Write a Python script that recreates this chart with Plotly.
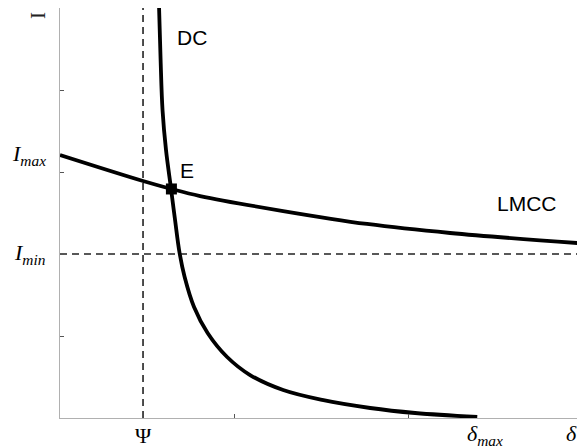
import plotly.graph_objects as go

# Demand curve (DC)
dc_x = [0.569, 0.578, 0.589, 0.609, 0.638, 0.661, 0.687, 0.716, 0.770, 0.848, 0.960, 1.092, 1.282, 1.506, 1.782, 2.040, 2.397]
dc_y = [5.012, 4.366, 3.756, 3.268, 2.793, 2.415, 2.012, 1.720, 1.354, 1.037, 0.744, 0.524, 0.341, 0.220, 0.122, 0.061, 0.012]

# LMCC curve
lm_x = [0.0, 0.477, 0.640, 0.805, 1.282, 1.764, 2.241, 2.971]
lm_y = [3.207, 2.890, 2.793, 2.707, 2.524, 2.366, 2.256, 2.134]

# Equilibrium point E
e_x = [0.640]
e_y = [2.793]

psi_x = 0.477
i_min = 2.0
i_max = 3.21
delta_max = 2.44
x_range = [0, 2.97]
y_range = [0, 5.0]
y_ticks = [0, 1, 2, 3, 4, 5]
x_ticks = [0, 1, 2]

fig = go.Figure()

# dashed reference lines
fig.add_trace(go.Scatter(x=[psi_x, psi_x], y=y_range, mode="lines",
                         line=dict(color="#222222", width=1.6, dash="7px,5px"),
                         hoverinfo="skip", showlegend=False))
fig.add_trace(go.Scatter(x=x_range, y=[i_min, i_min], mode="lines",
                         line=dict(color="#222222", width=1.6, dash="7px,5px"),
                         hoverinfo="skip", showlegend=False))

fig.add_trace(go.Scatter(x=lm_x, y=lm_y, mode="lines",
                         line=dict(color="black", width=3.8, shape="spline", smoothing=1),
                         showlegend=False))
fig.add_trace(go.Scatter(x=dc_x, y=dc_y, mode="lines",
                         line=dict(color="black", width=3.8, shape="spline", smoothing=1),
                         showlegend=False))
fig.add_trace(go.Scatter(x=e_x, y=e_y, mode="markers", marker=dict(symbol="square", size=11, color="black"),
                         showlegend=False))

sans = dict(family="Liberation Sans, Arial, sans-serif", size=21, color="black")
serif = dict(family="Liberation Serif, DejaVu Serif, serif", size=22, color="black")

ann = [
    dict(x=0.66, y=4.64, text="DC", xanchor="left", yanchor="middle", font=sans),
    dict(x=0.68, y=3.02, text="E", xanchor="left", yanchor="middle", font=sans),
    dict(x=2.50, y=2.61, text="LMCC", xanchor="left", yanchor="middle", font=sans),
    dict(x=0, y=i_max, text="<i>I</i><sub><i>max</i></sub>", xanchor="right", yanchor="middle",
         xshift=-12, font=serif),
    dict(x=0, y=i_min, text="<i>I</i><sub><i>min</i></sub>", xanchor="right", yanchor="middle",
         xshift=-12, font=serif),
    dict(x=psi_x, y=0, text="Ψ", xanchor="center", yanchor="top", yshift=-3, font=serif),
    dict(x=delta_max, y=0, text="<i>δ</i><sub><i>max</i></sub>", xanchor="center", yanchor="top", yshift=-1, font=serif),
    dict(x=2.94, y=0, text="<i>δ</i>", xanchor="center", yanchor="top", yshift=-1, font=serif),
    dict(x=0, y=y_range[1], text="I", xanchor="center", yanchor="middle", xshift=-22, yshift=-8,
         textangle=-90, font=dict(family="Liberation Serif, serif", size=21, color="#222222")),
]
for a in ann:
    a.setdefault("showarrow", False)
    a.setdefault("xref", "x")
    a.setdefault("yref", "y")
    fig.add_annotation(**a)

axis_common = dict(showgrid=False, zeroline=False, showline=True, linecolor="#b0b0b0", linewidth=1.2,
                   ticks="inside", ticklen=4, tickwidth=1, tickcolor="#555555", showticklabels=False)
fig.update_xaxes(range=x_range, tickvals=x_ticks, **axis_common)
fig.update_yaxes(range=y_range, tickvals=y_ticks, **axis_common)

fig.update_layout(width=577, height=448, margin=dict(l=60, r=0, t=8, b=30),
                  plot_bgcolor="white", paper_bgcolor="white", showlegend=False)

fig.write_html("out.html", config={"displayModeBar": False},
               post_script="document.body.style.margin='0';document.body.style.overflow='hidden';")
